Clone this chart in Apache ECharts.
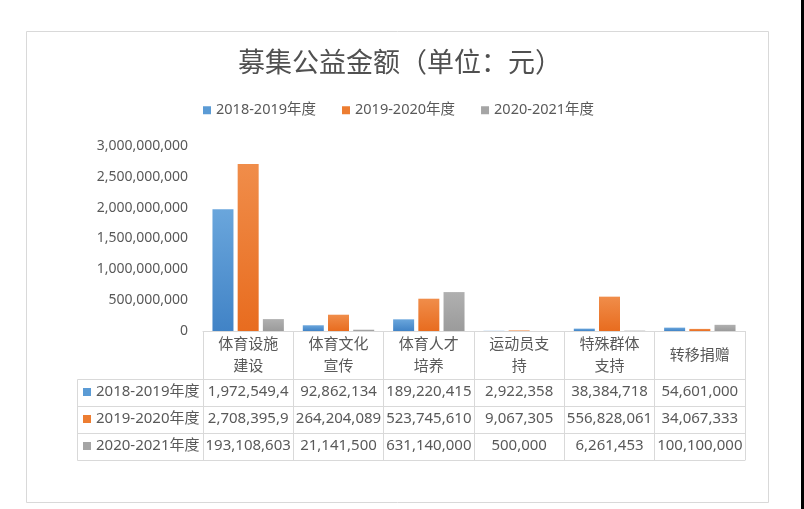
<!DOCTYPE html>
<html>
<head>
<meta charset="utf-8">
<script src="https://cdn.jsdelivr.net/npm/echarts@6/dist/echarts.min.js"></script>
<style>
html, body { margin: 0; padding: 0; background: #fff; }
#main { width: 804px; height: 509px; }
</style>
</head>
<body>
<div id="main"></div>
<script>
// 数据
let categories = ['体育设施建设', '体育文化宣传', '体育人才培养', '运动员支持', '特殊群体支持', '转移捐赠'];
let seriesNames = ['2018-2019年度', '2019-2020年度', '2020-2021年度'];
let data1819 = [1972549400, 92862134, 189220415, 2922358, 38384718, 54601000];
let data1920 = [2708395900, 264204089, 523745610, 9067305, 556828061, 34067333];
let data2021 = [193108603, 21141500, 631140000, 500000, 6261453, 100100000];
let yTicks = [0, 500000000, 1000000000, 1500000000, 2000000000, 2500000000, 3000000000];

let seriesData = [data1819, data1920, data2021];
let colorTop = ['#6aa6dc', '#f08d4a', '#b0b0b0'];
let colorBottom = ['#4183c6', '#e86c1f', '#9b9b9b'];
let legendColor = ['#5b9bd5', '#ed7d31', '#a5a5a5'];

let font = '"Noto Sans", "Noto Sans CJK SC", sans-serif';
let textColor = '#595959';
let lineColor = '#d9d9d9';

let myChart = echarts.init(document.getElementById('main'));

// 千分位
function fmt(v) {
    return String(v).replace(/\B(?=(\d{3})+(?!\d))/g, ',');
}
// 单元格放不下的数字直接截掉（像Excel一样）
function cellText(v) {
    let s = fmt(v);
    if (echarts.format && echarts.format.truncateText) {
        return echarts.format.truncateText(s, 89, '15px ' + font, '', { minChar: 0 });
    }
    return s;
}

// 表格的数据行，用x轴来画（每一行一个x轴）
let rowAxes = [];
seriesData.forEach((arr, k) => {
    rowAxes.push({
        type: 'category',
        data: categories,
        position: 'bottom',
        offset: 48 + k * 27,
        axisLine: { show: true, lineStyle: { color: lineColor, width: 1 } },
        axisTick: { show: true, length: 27, inside: false, lineStyle: { color: lineColor } },
        axisLabel: {
            interval: 0,
            margin: 13,
            verticalAlign: 'middle',
            color: textColor,
            fontSize: 15,
            fontFamily: font,
            formatter: (value, index) => cellText(arr[index])
        }
    });
});
// 表格最底下一条线
rowAxes.push({
    type: 'category',
    data: categories,
    position: 'bottom',
    offset: 129,
    axisLine: { show: true, lineStyle: { color: lineColor, width: 1 } },
    axisTick: { show: false },
    axisLabel: { show: false }
});

// 外框 + 表格左边的图例列
let graphic = [
    { type: 'rect', shape: { x: 26.5, y: 31.5, width: 742, height: 471 }, style: { fill: 'none', stroke: lineColor, lineWidth: 1 } },
    { type: 'rect', shape: { x: 801, y: 0, width: 3, height: 509 }, style: { fill: '#000' } },
    { type: 'line', shape: { x1: 77.5, y1: 379.5, x2: 77.5, y2: 460.5 }, style: { stroke: lineColor, lineWidth: 1 } }
];
for (let k = 0; k <= 3; k++) {
    graphic.push({ type: 'line', shape: { x1: 77.5, y1: 379.5 + k * 27, x2: 203, y2: 379.5 + k * 27 }, style: { stroke: lineColor, lineWidth: 1 } });
}
seriesNames.forEach((name, k) => {
    let cy = 392 + k * 27;
    graphic.push({ type: 'rect', shape: { x: 83, y: cy - 4, width: 8, height: 8 }, style: { fill: legendColor[k] } });
    graphic.push({
        type: 'text', x: 96, y: cy,
        style: { text: name, fill: textColor, font: '15px ' + font, verticalAlign: 'middle' }
    });
});

let series = seriesNames.map((name, k) => ({
    name: name,
    type: 'bar',
    data: seriesData[k],
    barWidth: 21,
    barGap: '20%',
    itemStyle: {
        color: new echarts.graphic.LinearGradient(0, 0, 0, 1, [
            { offset: 0, color: colorTop[k] },
            { offset: 1, color: colorBottom[k] }
        ])
    }
}));

let option = {
    backgroundColor: '#fff',
    animation: false,
    title: {
        text: '募集公益金额（单位：元）',
        left: 233,
        top: 46,
        textStyle: { color: '#505050', fontSize: 27, fontWeight: 'normal', fontFamily: font }
    },
    legend: {
        data: seriesNames.map((n, k) => ({ name: n, itemStyle: { color: legendColor[k] } })),
        left: 203,
        top: 103,
        padding: 0,
        icon: 'rect',
        itemWidth: 8,
        itemHeight: 8,
        itemGap: 26,
        textStyle: { color: textColor, fontSize: 14.5, fontFamily: font }
    },
    grid: { left: 203, right: 59, top: 146, bottom: 178, containLabel: false },
    xAxis: [{
        type: 'category',
        data: categories,
        position: 'bottom',
        axisLine: { show: true, lineStyle: { color: lineColor, width: 1 } },
        axisTick: { show: true, length: 48, lineStyle: { color: lineColor } },
        axisLabel: {
            margin: 25,
            verticalAlign: 'middle',
            color: textColor,
            fontSize: 15,
            fontFamily: font,
            lineHeight: 22,
            width: 66,
            overflow: 'break',
            interval: 0
        }
    }].concat(rowAxes),
    yAxis: {
        type: 'value',
        min: yTicks[0],
        max: yTicks[yTicks.length - 1],
        interval: yTicks[1] - yTicks[0],
        axisLine: { show: false },
        axisTick: { show: false },
        splitLine: { show: false },
        axisLabel: {
            margin: 15,
            color: textColor,
            fontSize: 14,
            fontFamily: font,
            formatter: (v) => fmt(v)
        }
    },
    graphic: graphic,
    series: series
};
myChart.setOption(option);
</script>
</body>
</html>
